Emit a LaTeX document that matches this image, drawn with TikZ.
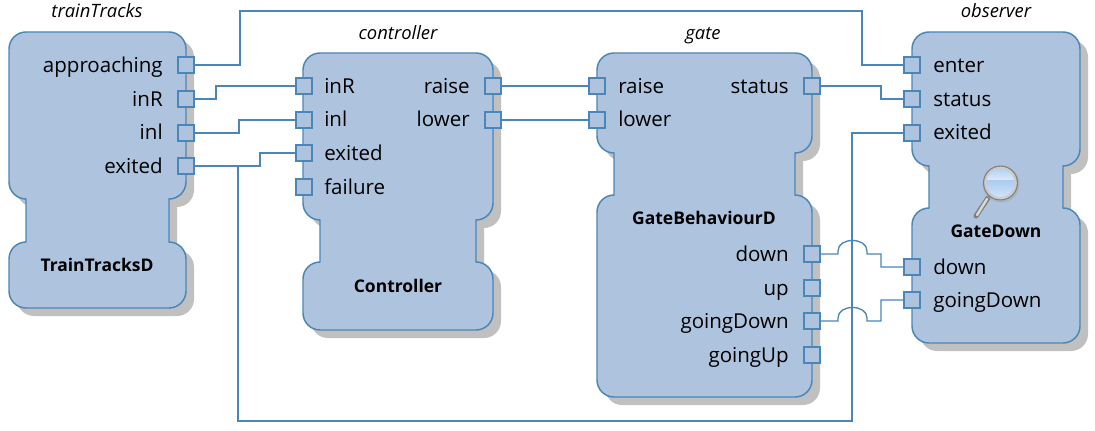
\documentclass[tikz,border=0pt]{standalone}
\usepackage{fontspec}
\setmainfont{Open Sans}
\definecolor{bodyfill}{HTML}{AEC3DE}
\definecolor{edgeblue}{HTML}{4A86B8}
\definecolor{shadowgray}{HTML}{C0C0C0}
\definecolor{glassTop}{HTML}{B4D2F2}
\definecolor{glassMid}{HTML}{DCEAFA}
\definecolor{glassLow}{HTML}{A9CCF0}
\definecolor{glassBot}{HTML}{D2E4F8}
\tikzset{
  x=0.75pt,y=-0.75pt,
  portbox/.style={draw=edgeblue,fill=bodyfill,line width=1.2pt,minimum size=12.4pt,inner sep=0pt,outer sep=0pt},
  conn/.style={draw=edgeblue,line width=1pt,line join=miter},
  lblR/.style={anchor=base east,inner sep=0pt,yshift=-0.5pt,font=\fontsize{15.4}{17}\selectfont,text=black},
  lblL/.style={anchor=base west,inner sep=0pt,yshift=-0.5pt,font=\fontsize{15.4}{17}\selectfont,text=black},
  inst/.style={anchor=base,inner sep=0pt,font=\fontsize{13.8}{15}\selectfont\itshape,text=black},
  cls/.style={anchor=base,inner sep=0pt,font=\fontsize{13.1}{15}\selectfont\bfseries,text=black},
}
% #1 left, #2 right, #3 top, #4 upper-part bottom, #5 lower-part top, #6 bottom
\newcommand{\blockpath}[6]{
  (#1,#3+17) .. controls +(0,-9.4) and +(-9.4,0) .. (#1+17,#3)
  -- (#2-17,#3) .. controls +(9.4,0) and +(0,-9.4) .. (#2,#3+17)
  -- (#2,#4-17) .. controls +(0,9.4) and +(9.4,0) .. (#2-17,#4)
  -- (#2-17,#5) .. controls +(9.4,0) and +(0,-9.4) .. (#2,#5+17)
  -- (#2,#6-17) .. controls +(0,9.4) and +(9.4,0) .. (#2-17,#6)
  -- (#1+17,#6) .. controls +(-9.4,0) and +(0,9.4) .. (#1,#6-17)
  -- (#1,#5+17) .. controls +(0,-9.4) and +(-9.4,0) .. (#1+17,#5)
  -- (#1+17,#4) .. controls +(-9.4,0) and +(0,9.4) .. (#1,#4-17)
  -- cycle
}
\newcommand{\block}[6]{
  \fill[shadowgray,shift={(8,8)}] \blockpath{#1}{#2}{#3}{#4}{#5}{#6};
  \filldraw[fill=bodyfill,draw=edgeblue,line width=1.1pt] \blockpath{#1}{#2}{#3}{#4}{#5}{#6};
}
\begin{document}
\begin{tikzpicture}
\useasboundingbox (0,0) rectangle (1095,431);
\block{9}{186}{32}{199}{242}{308}
\block{303}{493}{53}{220}{262}{330}
\block{597}{812}{53}{153}{195}{397}
\block{912}{1080}{32}{166}{208}{343}

% instance names
\node[inst] (nT) at (97,18) {trainTracks};
\node[inst] (nC) at (398,40) {controller};
\node[inst] (nG) at (703,40) {gate};
\node[inst] (nO) at (996,18) {observer};
% class names
\node[cls] (kT) at (97,271) {TrainTracksD};
\node[cls] (kC) at (398,292) {Controller};
\node[cls] (kG) at (704,224) {GateBehaviourD};
\node[cls] (kO) at (996,237) {GateDown};

% labels
\node[lblR] (lt1) at (163,72) {approaching};
\node[lblR] (lt2) at (163,106) {inR};
\node[lblR] (lt3) at (163,139) {inl};
\node[lblR] (lt4) at (163,173) {exited};
\node[lblL] (lc1) at (324,93) {inR};
\node[lblL] (lc2) at (324,126) {inl};
\node[lblL] (lc3) at (324,160) {exited};
\node[lblL] (lc4) at (324,194) {failure};
\node[lblR] (lc5) at (470,93) {raise};
\node[lblR] (lc6) at (470,126) {lower};
\node[lblL] (lg1) at (618,93) {raise};
\node[lblL] (lg2) at (618,126) {lower};
\node[lblR] (lg3) at (789,93) {status};
\node[lblR] (lg4) at (789,261) {down};
\node[lblR] (lg5) at (789,295) {up};
\node[lblR] (lg6) at (789,328) {goingDown};
\node[lblR] (lg7) at (789,362) {goingUp};
\node[lblL] (lo1) at (933,72) {enter};
\node[lblL] (lo2) at (933,106) {status};
\node[lblL] (lo3) at (933,139) {exited};
\node[lblL] (lo4) at (933,274) {down};
\node[lblL] (lo5) at (933,307) {goingDown};

% ports
\node[portbox] (tA) at (186,65) {};
\node[portbox] (tR) at (186,99) {};
\node[portbox] (tL) at (186,133) {};
\node[portbox] (tE) at (186,166) {};
\node[portbox] (cR) at (304,86) {};
\node[portbox] (cL) at (304,120) {};
\node[portbox] (cE) at (304,153) {};
\node[portbox] (cF) at (304,187) {};
\node[portbox] (cU) at (493,86) {};
\node[portbox] (cD) at (493,120) {};
\node[portbox] (gR) at (597,86) {};
\node[portbox] (gL) at (597,120) {};
\node[portbox] (gS) at (812,86) {};
\node[portbox] (gD) at (812,254) {};
\node[portbox] (gP) at (812,288) {};
\node[portbox] (gG) at (812,321) {};
\node[portbox] (gU) at (812,355) {};
\node[portbox] (oE) at (912,65) {};
\node[portbox] (oS) at (912,99) {};
\node[portbox] (oX) at (912,133) {};
\node[portbox] (oD) at (912,267) {};
\node[portbox] (oG) at (912,300) {};

% connectors
\draw[conn] (tA.east) -| (240,11) -- (862,11) |- (oE.west);
\draw[conn] (tR.east) -| (216,86) -- (cR.west);
\draw[conn] (tL.east) -| (239,120) -- (cL.west);
\draw[conn] (tE.east) -| (260,153) -- (cE.west);
\coordinate (branch) at (238,166);
\draw[conn] (branch) |- (852,421) |- (oX.west);
\draw[conn] (cU.east) -- (gR.west);
\draw[conn] (cD.east) -- (gL.west);
\draw[conn] (gS.east) -| (881,99) -- (oS.west);
\draw[conn] (gD.east) -- (838,254) -- (838,251) .. controls (838,244) and (845,240.5) .. (852.5,240.5)
  .. controls (860,240.5) and (867,244) .. (867,251) -- (867,254) -| (881,267) -- (oD.west);
\draw[conn] (gG.east) -- (838,321) -- (838,318) .. controls (838,311) and (845,307.5) .. (852.5,307.5)
  .. controls (860,307.5) and (867,311) .. (867,318) -- (867,321) -| (881,300) -- (oG.west);

% magnifier
\draw[line cap=round,line width=3.8pt,draw=black!50] (988,198) -- (976,216);
\draw[line cap=round,line width=1.8pt,draw=black!15] (987,199) -- (977,215);
\fill[black!35,opacity=.5] (1001,184) circle (18.5);
\fill[black!50] (1000.5,183) circle (17.5);
\fill[black!20] (1000.5,183) circle (16.3);
\fill[glassTop] (1000.5,183) circle (14);
\begin{scope}
  \clip (1000.5,183) circle (14);
  \shade[top color=glassTop,bottom color=glassMid] (985,169) rectangle (1016,180);
  \shade[top color=glassLow,bottom color=glassBot] (985,180) rectangle (1016,198);
\end{scope}
\end{tikzpicture}
\end{document}
